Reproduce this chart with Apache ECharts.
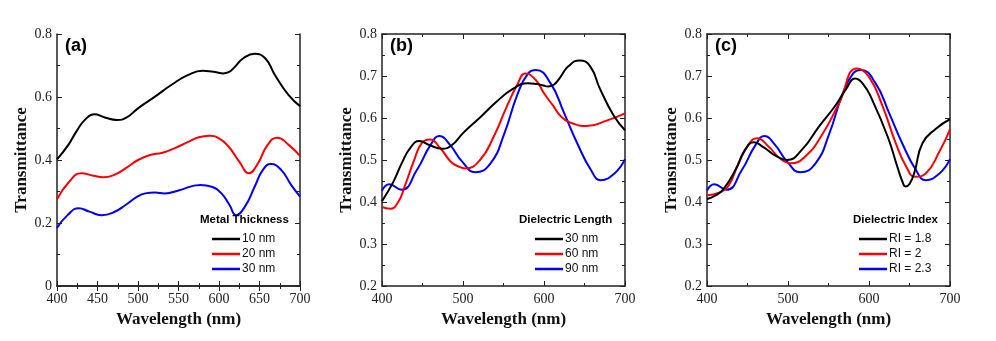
<!DOCTYPE html>
<html>
<head>
<meta charset="utf-8">
<script src="https://cdn.jsdelivr.net/npm/echarts@6/dist/echarts.min.js"></script>
<style>
  html, body { margin: 0; padding: 0; background: #fff; }
  #main { width: 996px; height: 341px; }
</style>
</head>
<body>
<div id="main"></div>
<script>
// each curve: wavelengths (nm) and transmittance

// (a) metal thickness
var metal10Wl = [400,414,425,435,446,459,474,486,500,521,541,562,580,591,598,605,612,620,630,644,657,669,686,700];
var metal10T  = [0.402,0.448,0.495,0.529,0.545,0.535,0.527,0.535,0.564,0.601,0.638,0.670,0.683,0.681,0.678,0.675,0.679,0.697,0.723,0.737,0.723,0.670,0.606,0.571];
var metal20Wl = [400,415,430,445,457,470,485,500,515,530,545,560,575,588,600,612,625,637,648,660,672,686,700];
var metal20T  = [0.275,0.331,0.358,0.350,0.345,0.352,0.374,0.400,0.416,0.423,0.437,0.455,0.472,0.477,0.469,0.442,0.395,0.358,0.389,0.448,0.471,0.448,0.413];
var metal30Wl = [400,413,427,440,455,470,485,500,509,521,533,550,577,591,603,613,621,632,644,654,664,677,689,700];
var metal30T  = [0.184,0.225,0.247,0.236,0.225,0.234,0.258,0.285,0.294,0.297,0.294,0.303,0.321,0.315,0.294,0.257,0.225,0.252,0.315,0.368,0.387,0.368,0.321,0.284];

// (b) dielectric length (30 nm is the same structure as 10 nm metal)
var len30Wl = metal10Wl;
var len30T  = metal10T;
var len60Wl = [400,410,420,428,439,449,459,472,485,495,503,521,538,554,567,577,590,600,611,622,637,653,679,700];
var len60T  = [0.388,0.384,0.400,0.437,0.496,0.540,0.549,0.528,0.496,0.484,0.480,0.500,0.556,0.627,0.679,0.706,0.690,0.659,0.630,0.602,0.586,0.581,0.595,0.611];
var len90Wl = [400,409,424,443,460,471,484,499,515,534,551,567,580,590,608,625,641,658,670,687,700];
var len90T  = [0.427,0.442,0.429,0.476,0.536,0.557,0.536,0.496,0.471,0.492,0.563,0.655,0.705,0.714,0.683,0.611,0.540,0.476,0.452,0.468,0.502];

// (c) dielectric index (RI = 2.3 is the same structure as 90 nm length)
var ri18Wl = [400,410,420,435,447,458,470,485,499,517,538,559,571,583,593,604,623,635,641,645,650,656,666,683,700];
var ri18T  = [0.407,0.415,0.430,0.476,0.524,0.542,0.530,0.510,0.500,0.524,0.579,0.631,0.667,0.694,0.680,0.643,0.556,0.484,0.450,0.437,0.443,0.470,0.540,0.575,0.597];
var ri20Wl = [400,415,426,439,451,462,476,490,503,521,542,563,585,600,617,633,646,657,670,687,700];
var ri20T  = [0.416,0.422,0.437,0.492,0.536,0.552,0.532,0.504,0.492,0.508,0.560,0.635,0.718,0.698,0.627,0.540,0.484,0.460,0.468,0.520,0.573];
var ri23Wl = len90Wl;
var ri23T  = len90T;

var panelLabels = ['(a)', '(b)', '(c)'];
var legendTitles = ['Metal Thickness', 'Dielectric Length', 'Dielectric Index'];
var seriesKeys = [['a10','a20','a30'], ['b30','b60','b90'], ['c18','c20','c23']];
var seriesText = {a10:'10 nm', a20:'20 nm', a30:'30 nm', b30:'30 nm', b60:'60 nm', b90:'90 nm',
                  c18:'RI = 1.8', c20:'RI = 2', c23:'RI = 2.3'};
var seriesWl = [[metal10Wl, metal20Wl, metal30Wl], [len30Wl, len60Wl, len90Wl], [ri18Wl, ri20Wl, ri23Wl]];
var seriesT  = [[metal10T, metal20T, metal30T], [len30T, len60T, len90T], [ri18T, ri20T, ri23T]];
var colors = ['#000000', '#ff0000', '#0000ff'];

var gridLeft = [57, 382, 707];
var legendLeft = [212, 535, 859];
var titleLeft = [200, 519, 853];

var chart = echarts.init(document.getElementById('main'));

function pairs(xs, ys) {
    return xs.map(function (x, i) { return [x, ys[i]]; });
}

var grids = [], xAxes = [], yAxes = [], series = [], legends = [], titles = [];
var serif = 'Liberation Serif';
var axisColor = '#222';

for (var p = 0; p < 3; p++) {
    grids.push({left: gridLeft[p], top: 34, width: 243, height: 252});

    var xInterval = p === 0 ? 50 : 100;
    var yMin = p === 0 ? 0 : 0.2;
    var yInterval = p === 0 ? 0.2 : 0.1;

    // bottom x axis
    xAxes.push({
        type: 'value', gridIndex: p, min: 400, max: 700, interval: xInterval,
        position: 'bottom',
        name: 'Wavelength (nm)', nameLocation: 'middle', nameGap: 19,
        nameTextStyle: {fontFamily: serif, fontWeight: 'bold', fontSize: 17, color: '#111'},
        axisLine: {lineStyle: {color: axisColor, width: 1.5}},
        axisTick: {inside: true, length: 5, lineStyle: {color: axisColor}},
        minorTick: {show: true, splitNumber: 2, length: 3, lineStyle: {color: axisColor}},
        axisLabel: {fontFamily: serif, fontSize: 14, color: '#222', margin: 6},
        splitLine: {show: false}
    });
    // top mirror
    xAxes.push({
        type: 'value', gridIndex: p, min: 400, max: 700, interval: xInterval,
        position: 'top',
        axisLine: {lineStyle: {color: axisColor, width: 1.5}},
        axisTick: {inside: true, length: 5, lineStyle: {color: axisColor}},
        minorTick: {show: true, splitNumber: 2, length: 3, lineStyle: {color: axisColor}},
        axisLabel: {show: false},
        splitLine: {show: false}
    });
    // left y axis
    yAxes.push({
        type: 'value', gridIndex: p, min: yMin, max: 0.8, interval: yInterval,
        position: 'left',
        name: 'Transmittance', nameLocation: 'middle', nameGap: 27,
        nameTextStyle: {fontFamily: serif, fontWeight: 'bold', fontSize: 17, color: '#111'},
        axisLine: {show: true, lineStyle: {color: axisColor, width: 1.5}},
        axisTick: {show: true, inside: true, length: 5, lineStyle: {color: axisColor}},
        minorTick: {show: true, splitNumber: 2, length: 3, lineStyle: {color: axisColor}},
        axisLabel: {
            fontFamily: serif, fontSize: 14, color: '#222', margin: 5,
            formatter: function (v) { return v === 0 ? '0' : v.toFixed(1); }
        },
        splitLine: {show: false}
    });
    // right mirror
    yAxes.push({
        type: 'value', gridIndex: p, min: yMin, max: 0.8, interval: yInterval,
        position: 'right',
        axisLine: {show: true, lineStyle: {color: axisColor, width: 1.5}},
        axisTick: {show: true, inside: true, length: 5, lineStyle: {color: axisColor}},
        minorTick: {show: true, splitNumber: 2, length: 3, lineStyle: {color: axisColor}},
        axisLabel: {show: false},
        splitLine: {show: false}
    });

    for (var s = 0; s < 3; s++) {
        series.push({
            name: seriesKeys[p][s],
            type: 'line',
            xAxisIndex: p * 2,
            yAxisIndex: p * 2,
            data: pairs(seriesWl[p][s], seriesT[p][s]),
            smooth: 0.5,
            showSymbol: false,
            symbol: 'none',
            lineStyle: {color: colors[s], width: 2},
            itemStyle: {color: colors[s]},
            z: 3 - s
        });
    }

    legends.push({
        data: seriesKeys[p],
        orient: 'vertical',
        left: legendLeft[p],
        top: 233,
        padding: 0,
        icon: 'rect',
        itemWidth: 28,
        itemHeight: 2.5,
        itemGap: 3,
        selectedMode: false,
        formatter: function (name) { return seriesText[name]; },
        textStyle: {fontFamily: 'Liberation Sans', fontSize: 12, color: '#111', padding: [0, 0, 0, -3]}
    });

    titles.push({
        text: panelLabels[p],
        left: gridLeft[p] + 8, top: 37, padding: 0,
        textStyle: {fontFamily: 'Liberation Sans', fontWeight: 'bold', fontSize: 18, color: '#000'}
    });
    titles.push({
        text: legendTitles[p],
        left: titleLeft[p], top: 214, padding: 0,
        textStyle: {fontFamily: 'Liberation Sans', fontWeight: 'bold', fontSize: 11.5, color: '#000'}
    });
}

var option = {
    backgroundColor: '#fff',
    animation: false,
    title: titles,
    legend: legends,
    grid: grids,
    xAxis: xAxes,
    yAxis: yAxes,
    series: series
};

chart.setOption(option);
</script>
</body>
</html>
